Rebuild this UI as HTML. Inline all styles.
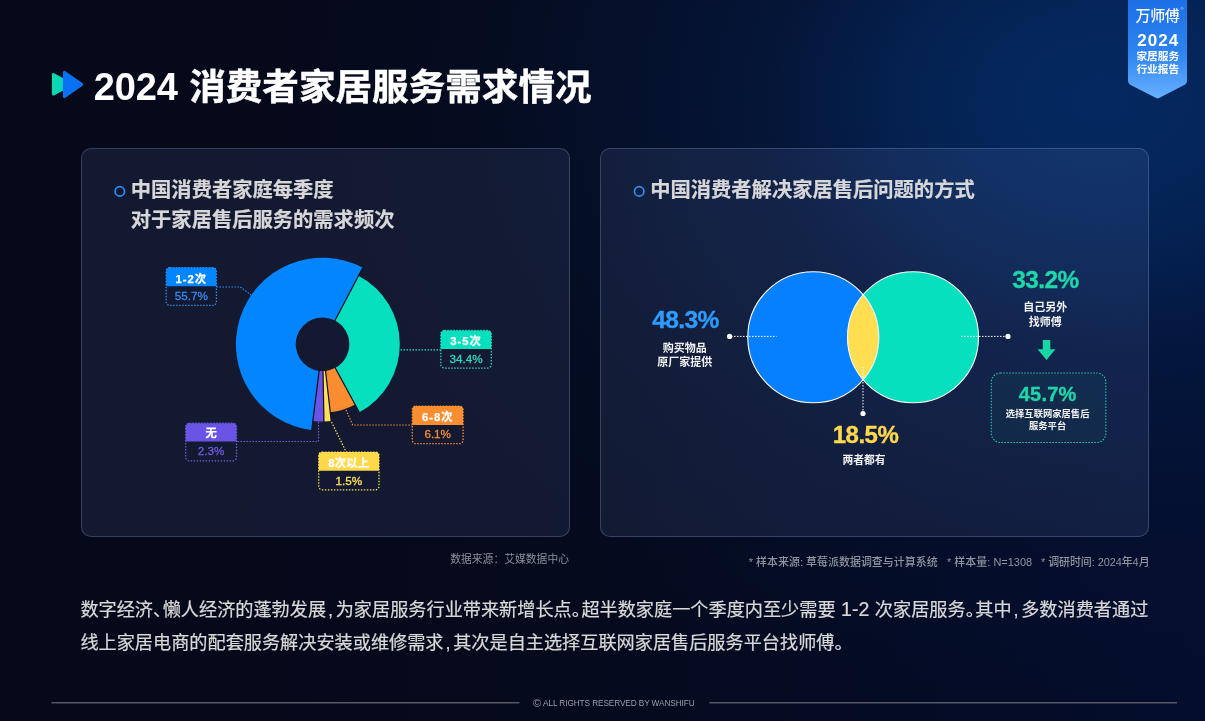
<!DOCTYPE html>
<html lang="zh-CN">
<head>
<meta charset="utf-8">
<title>2024 消费者家居服务需求情况</title>
<style>
*{margin:0;padding:0;box-sizing:border-box}
html,body{width:1205px;height:721px;overflow:hidden;background:#050a1a}
body{font-family:"Liberation Sans","Noto Sans CJK SC",sans-serif;color:#fff;position:relative}
#bg{position:absolute;left:0;top:0;width:1205px;height:721px;
background:
radial-gradient(ellipse 800px 600px at 1100px 100px, rgba(4,41,96,1) 0%, rgba(4,41,96,.93) 10%, rgba(4,41,96,.72) 25%, rgba(4,41,96,.34) 42%, rgba(4,41,96,.19) 60%, rgba(4,41,96,.07) 76%, rgba(4,41,96,0) 100%),
linear-gradient(90deg,#05091a 0%,#050a1c 45%,#040d2c 100%);}
.abs{position:absolute}
.panel{position:absolute;border:1.5px solid rgba(165,185,240,.25);border-radius:10px;background:rgba(150,165,235,.10)}
h1{position:absolute;left:93.700px;top:61px;font-size:36.6px;line-height:52px;font-weight:700;white-space:nowrap;letter-spacing:0;-webkit-text-stroke:.45px #fff}
h1 .n{font-size:38px;letter-spacing:-0.1px;margin-right:1.2px;-webkit-text-stroke:0}
.pt{position:absolute;font-size:20.3px;line-height:29.6px;-webkit-text-stroke:.2px #d7d7d9;font-weight:700;color:#d7d7d9;white-space:nowrap}
.lt{position:absolute;text-align:center;white-space:nowrap;font-weight:700;font-size:11.3px;color:#fff;-webkit-text-stroke:.25px #fff}
.lv{position:absolute;text-align:center;white-space:nowrap;font-size:11.7px;font-weight:400}
.pc{position:absolute;font-weight:700;-webkit-text-stroke:.35px currentColor;white-space:nowrap;text-align:center;transform:translateX(-50%)}
.cap{position:absolute;font-weight:700;white-space:nowrap;text-align:center;color:#f2f2f2;transform:translateX(-50%)}
.fn{position:absolute;font-size:10.8px;line-height:16px;color:#8b909c;white-space:nowrap}
.f2{top:553.800px;font-size:10.95px;font-weight:500;color:#8f94a0;letter-spacing:.03px}
.body{position:absolute;left:80.400px;font-size:18.17px;line-height:30px;color:#d8d8d8;white-space:nowrap;-webkit-text-stroke:.22px #d8d8d8}
.body .p{display:inline-block;width:.53em}
.body .c{padding-left:2px}
.body .lat{font-size:1.08em;letter-spacing:0;white-space:pre;line-height:1px}
.foot{position:absolute;top:696.700px;left:533px;font-size:8.25px;line-height:14px;color:#9a9eaa;white-space:nowrap;letter-spacing:-.1px}
.foot b{font-weight:400;font-size:11px;line-height:1px;letter-spacing:0;margin-right:2px;position:relative;top:.9px}
</style>
</head>
<body>
<div id="bg"></div>

<!-- badge -->
<svg class="abs" style="left:1120px;top:0" width="80" height="104" viewBox="1120 0 80 104">
<defs>
<linearGradient id="bdg" x1="0" y1="0" x2="0" y2="1"><stop offset="0" stop-color="#1c6fe6"/><stop offset=".55" stop-color="#2f85f2"/><stop offset="1" stop-color="#66b0ff"/></linearGradient>
</defs>
<path d="M1128 0H1187V81Q1187 83.500 1184.800 84.700L1159.500 97.700Q1157.600 98.700 1155.600 97.700L1130.200 84.700Q1128 83.500 1128 81Z" fill="url(#bdg)"/>
</svg>
<div class="abs" style="left:1128px;top:5.800px;width:59px;text-align:center;font-size:15px;line-height:20px;font-weight:500;color:#fff;letter-spacing:-.3px">万师傅</div>
<div class="abs" style="left:1180.500px;top:6px;font-size:4px;line-height:5px;color:#cfe2ff">®</div>
<div class="abs" style="left:1128.800px;top:32.400px;width:59px;text-align:center;font-size:17px;line-height:18px;font-weight:700;color:#fff;letter-spacing:1.1px">2024</div>
<div class="abs" style="left:1128.300px;top:50.300px;width:59px;text-align:center;font-size:10.7px;line-height:13.1px;font-weight:700;color:#fff">家居服务<br>行业报告</div>

<!-- title -->
<svg class="abs" style="left:48px;top:66px" width="40" height="36" viewBox="48 66 40 36">
<defs><linearGradient id="tg" x1="0" y1="0" x2="1" y2="0"><stop offset="0" stop-color="#0ed8ac"/><stop offset=".45" stop-color="#08d4b8"/><stop offset=".62" stop-color="#10cbe6"/><stop offset="1" stop-color="#10cbe6"/></linearGradient></defs>
<path d="M53.400 74.500V94.100L71.500 84.300Z" fill="url(#tg)" stroke="url(#tg)" stroke-width="3" stroke-linejoin="round"/>
<path d="M64.500 72.450V96.400L81.500 84.400Z" fill="#0a70f2" stroke="#0a70f2" stroke-width="3.200" stroke-linejoin="round"/>
</svg>
<h1><span class="n">2024</span> 消费者家居服务需求情况</h1>

<!-- panels -->
<div class="panel" style="left:81px;top:147.700px;width:488.700px;height:389.500px"></div>
<div class="panel" style="left:600.400px;top:147.700px;width:548.800px;height:389.500px"></div>

<div class="pt" style="left:130.800px;top:176.400px">中国消费者家庭每季度<br>对于家居售后服务的需求频次</div>
<div class="pt" style="left:650.200px;top:176.400px">中国消费者解决家居售后问题的方式</div>

<svg class="abs" style="left:0;top:0" width="1205" height="721" viewBox="0 0 1205 721">
<circle cx="119.800" cy="191.400" r="4.700" fill="none" stroke="#2f8df5" stroke-width="1.700"/>
<circle cx="639.200" cy="191.400" r="4.700" fill="none" stroke="#2f8df5" stroke-width="1.700"/>
<!-- pie -->
<path d="M358.43 275.86A77.3 77.3 0 0 1 359.34 412.26L335.27 367.86A26.8 26.8 0 0 0 334.96 320.57Z" fill="#07e0be"/>
<path d="M355.14 404.52A68.5 68.5 0 0 1 330.25 412.36L325.53 370.93A26.8 26.8 0 0 0 335.27 367.86Z" fill="#f98d30"/>
<path d="M331.25 421.10A77.3 77.3 0 0 1 323.98 421.59L323.01 371.10A26.8 26.8 0 0 0 325.53 370.93Z" fill="#ffe05a"/>
<path d="M323.98 421.59A77.3 77.3 0 0 1 312.84 420.99L319.15 370.89A26.8 26.8 0 0 0 323.01 371.10Z" fill="#6a54e6"/>
<path d="M311.68 430.22A86.6 86.6 0 1 1 362.76 267.62L334.96 320.57A26.8 26.8 0 1 0 319.15 370.89Z" fill="#0385ff"/>
<path d="M334.73 321.01L362.99 267.18" stroke="#0c1020" stroke-width="1.2" fill="none"/>
<path d="M335.03 367.42L359.58 412.70" stroke="#0c1020" stroke-width="1.2" fill="none"/>
<path d="M325.48 370.43L331.31 421.60" stroke="#0c1020" stroke-width="1.2" fill="none"/>
<path d="M323.00 370.60L323.99 422.09" stroke="#0c1020" stroke-width="1.2" fill="none"/>
<path d="M319.21 370.39L311.61 430.72" stroke="#0c1020" stroke-width="1.2" fill="none"/>

<g fill="none" stroke-width="1.200" stroke-dasharray="1.500 1.500">
<path d="M216.500 287H240.500L251 295" stroke="#2f8df5"/>
<path d="M400.500 349.800H440.800" stroke="#2fd9bd"/>
<path d="M346 410L352.700 425H412.300" stroke="#f98d30"/>
<path d="M331.500 422L346.200 452" stroke="#ffe05a"/>
<path d="M318.500 422V441.500H236.500" stroke="#6f5ce0"/>
</g>
<path d="M166.2 286.2V271.1Q166.2 267.6 169.7 267.6H212.89999999999998Q216.39999999999998 267.6 216.39999999999998 271.1V286.2Z" fill="#0385ff"/><rect x="166.2" y="267.6" width="50.2" height="37.8" rx="3.5" fill="none" stroke="#2f8df5" stroke-width="1.25" stroke-dasharray="1.45 1.55"/>
<path d="M440.8 349V333.9Q440.8 330.4 444.3 330.4H487.8Q491.3 330.4 491.3 333.9V349Z" fill="#07e0be"/><rect x="440.8" y="330.4" width="50.5" height="37.6" rx="3.5" fill="none" stroke="#2fd9bd" stroke-width="1.25" stroke-dasharray="1.45 1.55"/>
<path d="M412.3 425V409.6Q412.3 406.1 415.8 406.1H459.6Q463.1 406.1 463.1 409.6V425Z" fill="#f98d30"/><rect x="412.3" y="406.1" width="50.8" height="37.6" rx="3.5" fill="none" stroke="#f98d30" stroke-width="1.25" stroke-dasharray="1.45 1.55"/>
<path d="M318.7 470.7V455.5Q318.7 452 322.2 452H375.5Q379.0 452 379.0 455.5V470.7Z" fill="#ffd94a"/><rect x="318.7" y="452" width="60.3" height="37.8" rx="3.5" fill="none" stroke="#ffe05a" stroke-width="1.25" stroke-dasharray="1.45 1.55"/>
<path d="M185.7 441.6V426.7Q185.7 423.2 189.2 423.2H233.0Q236.5 423.2 236.5 426.7V441.6Z" fill="#6a54e6"/><rect x="185.7" y="423.2" width="50.8" height="37.6" rx="3.5" fill="none" stroke="#6f5ce0" stroke-width="1.25" stroke-dasharray="1.45 1.55"/>

<!-- venn -->
<defs><clipPath id="cl"><circle cx="813.300" cy="337.200" r="65.500"/></clipPath></defs>
<circle cx="813.300" cy="337.200" r="65.500" fill="#0780ff"/>
<circle cx="913" cy="337.200" r="65.500" fill="#07e0be"/>
<circle cx="913" cy="337.200" r="65.500" fill="#ffde52" clip-path="url(#cl)"/>
<circle cx="813.300" cy="337.200" r="65.500" fill="none" stroke="#fff" stroke-width="1.100"/>
<circle cx="913" cy="337.200" r="65.500" fill="none" stroke="#fff" stroke-width="1.100"/>
<g fill="none" stroke="#fff" stroke-width="1" stroke-dasharray="1.500 1.500">
<path d="M731 336.400H776.500"/>
<path d="M961 336.400H1006"/>
<path d="M863 367V412"/>
</g>
<circle cx="729.600" cy="336.400" r="2.600" fill="#fff"/>
<circle cx="1008" cy="336.400" r="2.600" fill="#fff"/>
<circle cx="863" cy="413.500" r="2.600" fill="#fff"/>
<!-- arrow -->
<path d="M1042.800 340H1050.300V349.200H1055.400L1046.500 360L1037.600 349.200H1042.800Z" fill="#19d6a6"/>
<!-- dotted box -->
<rect x="991.300" y="373" width="114.500" height="69.500" rx="9" fill="rgba(25,214,166,.05)" stroke="#1fc9a6" stroke-width="1.100" stroke-dasharray="1.500 1.500"/>
<!-- footer lines -->
<rect x="51.500" y="702.100" width="468" height="1.300" fill="#5f6370"/>
<rect x="709.500" y="702.100" width="467.500" height="1.300" fill="#5f6370"/>
</svg>

<div class="lt" style="left:166.2px;top:267.6px;width:50.2px;height:18.599999999999966px;line-height:22.199999999999967px;letter-spacing:1.0px">1-2次</div><div class="lv" style="left:166.2px;top:286.2px;width:50.2px;height:19.20000000000003px;line-height:19.20000000000003px;color:#2f8df5;-webkit-text-stroke:.3px #2f8df5">55.7%</div>
<div class="lt" style="left:440.8px;top:330.4px;width:50.5px;height:18.600000000000023px;line-height:22.200000000000024px;letter-spacing:1.0px">3-5次</div><div class="lv" style="left:440.8px;top:349px;width:50.5px;height:18.99999999999998px;line-height:18.99999999999998px;color:#2fd9bd;-webkit-text-stroke:.3px #2fd9bd">34.4%</div>
<div class="lt" style="left:412.3px;top:406.1px;width:50.8px;height:18.899999999999977px;line-height:22.49999999999998px;letter-spacing:1.0px">6-8次</div><div class="lv" style="left:412.3px;top:425px;width:50.8px;height:18.700000000000024px;line-height:18.700000000000024px;color:#f98d30;-webkit-text-stroke:.3px #f98d30">6.1%</div>
<div class="lt" style="left:318.7px;top:452px;width:60.3px;height:18.69999999999999px;line-height:22.29999999999999px;letter-spacing:0.2px">8次以上</div><div class="lv" style="left:318.7px;top:470.7px;width:60.3px;height:19.10000000000001px;line-height:19.10000000000001px;color:#ffe05a;-webkit-text-stroke:.3px #ffe05a">1.5%</div>
<div class="lt" style="left:185.7px;top:421.7px;width:50.8px;height:18.400000000000034px;line-height:22.000000000000036px;letter-spacing:0px">无</div><div class="lv" style="left:185.7px;top:440.5px;width:50.8px;height:19.199999999999967px;line-height:19.199999999999967px;color:#6f5ce0;-webkit-text-stroke:.3px #6f5ce0">2.3%</div>


<div class="pc" style="left:685.500px;top:304.500px;font-size:24.6px;line-height:30px;color:#2f9bff;letter-spacing:-.6px">48.3%</div>
<div class="cap" style="left:684.800px;top:340.800px;font-size:11px;line-height:14.4px">购买物品<br>原厂家提供</div>

<div class="pc" style="left:1045.400px;top:265.100px;font-size:24.4px;line-height:30px;color:#1fd6a8;letter-spacing:-.6px">33.2%</div>
<div class="cap" style="left:1045.300px;top:299.800px;font-size:11px;line-height:15px">自己另外<br>找师傅</div>

<div class="pc" style="left:1047.600px;top:378.600px;font-size:20px;line-height:30px;color:#1fd6a8;letter-spacing:.2px">45.7%</div>
<div class="cap" style="left:1047.600px;top:408px;font-size:9.3px;line-height:12px">选择互联网家居售后<br>服务平台</div>

<div class="pc" style="left:865.500px;top:419.900px;font-size:24px;line-height:30px;color:#ffd84d;letter-spacing:-.5px">18.5%</div>
<div class="cap" style="left:864px;top:452.500px;font-size:10.8px;line-height:15px">两者都有</div>

<div class="fn" style="right:636px;top:551px">数据来源：艾媒数据中心</div>
<div class="fn f2" style="left:748.700px">* 样本来源: 草莓派数据调查与计算系统</div>
<div class="fn f2" style="left:947px">* 样本量: N=1308</div>
<div class="fn f2" style="left:1041px;letter-spacing:-.06px">* 调研时间: 2024年4月</div>

<div class="body" style="top:595px">数字经济<span class="p">、</span>懒人经济的蓬勃发展<span class="p c">,</span>为家居服务行业带来新增长点<span class="p">。</span>超半数家庭一个季度内至少需要<span class="lat"> 1-2 </span>次家居服务<span class="p">。</span>其中<span class="p c">,</span>多数消费者通过</div>
<div class="body" style="top:628.200px">线上家居电商的配套服务解决安装或维修需求<span class="p c">,</span>其次是自主选择互联网家居售后服务平台找师傅<span class="p">。</span></div>

<div class="foot"><b>©</b>ALL RIGHTS RESERVED BY WANSHIFU</div>
</body>
</html>
